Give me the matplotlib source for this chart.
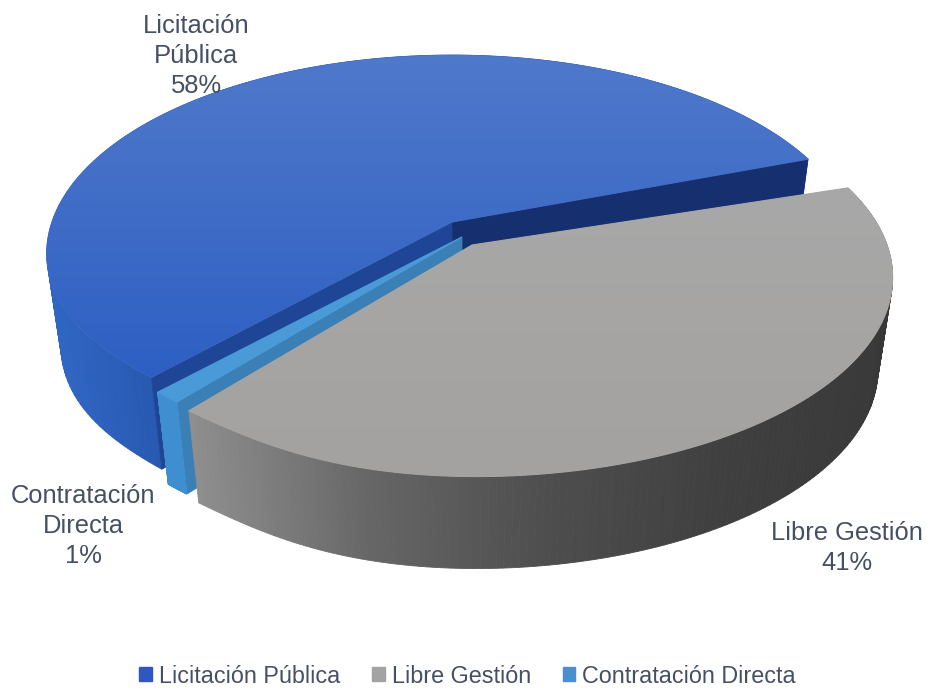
import numpy as np
import matplotlib
matplotlib.use("Agg")
import matplotlib.pyplot as plt
from matplotlib.colors import LinearSegmentedColormap as LSC
from matplotlib.patches import Polygon, Patch

categories = ["Licitación Pública", "Libre Gestión", "Contratación Directa"]
shares = [58, 41, 1]
point_labels = ["Licitación\nPública\n58%", "Libre Gestión\n41%", "Contratación\nDirecta\n1%"]

plt.rcParams['font.family'] = ['Liberation Sans', 'DejaVu Sans']
TXT = '#465064'
START = 18.0
K, DEPTH, SQUEEZE, B = 0.163, 92, 0.965, 194

fig = plt.figure(figsize=(9.28, 6.88), dpi=100)
ax = fig.add_axes([0, 0, 1, 1])
ax.set_xlim(0, 928); ax.set_ylim(688, 0); ax.axis('off')

def proj(ang, g):
    ang = np.asarray(ang, dtype=float)
    r = 1 - g['trim']*np.exp(-((ang-231)/20)**2)
    a = np.radians(ang)
    X, Y = r*np.cos(a), r*np.sin(a)
    w = 1 + K*Y
    return g['cx'] + g['A']*X/w, g['cy'] - B*Y/w

def low(x, y, g):
    return g['cx'] + (x-g['cx'])*SQUEEZE, y + DEPTH

# counter-clockwise order of slices around the pie: Licitación, Contratación, Libre
order_idx = [0, 2, 1]
cum = START + 3.6*np.cumsum([0] + [shares[i] for i in order_idx])
Z = [10]
def z():
    Z[0] += 1
    return Z[0]

def side(a0, a1, g, cmap):
    angs = np.linspace(a0, a1, 160)
    x, y = proj(angs, g)
    xl, yl = low(x, y, g)
    order = np.argsort(y[:-1]+y[1:])
    zz = z()
    for i in order:
        c = cmap(np.clip((x[i]-g['xmin'])/(g['xmax']-g['xmin']), 0, 1))
        ax.add_patch(Polygon([(x[i], y[i]), (x[i+1], y[i+1]), (xl[i+1], yl[i+1]), (xl[i], yl[i])],
                             fc=c, ec=c, lw=0.6, zorder=zz))

def radial(ang, g, col):
    x, y = proj(ang, g)
    xl, yl = low(x, y, g)
    ax.add_patch(Polygon([(g['cx'], g['cy']), (x, y), (xl, yl), (g['cx'], g['cy']+DEPTH)],
                         fc=col, ec=col, lw=0.5, zorder=z()))

def top(a0, a1, g, colors):
    angs = np.linspace(a0, a1, 240)
    x, y = proj(angs, g)
    pts = np.vstack([[g['cx'], g['cy']], np.c_[x, y]])
    zz = z()
    ax.add_patch(Polygon(pts, fc=colors[len(colors)//2], ec=colors[len(colors)//2], lw=0.8, zorder=zz))
    clip = Polygon(pts, transform=ax.transData, fc='none', ec='none')
    ax.add_patch(clip)
    grad = np.linspace(0, 1, 256).reshape(-1, 1)
    im = ax.imshow(grad, extent=(pts[:, 0].min(), pts[:, 0].max(), pts[:, 1].max(), pts[:, 1].min()),
                   cmap=LSC.from_list('t', colors), aspect='auto', zorder=z())
    im.set_clip_path(clip)

blue = dict(cx=452, cy=222, A=400, trim=0.03, xmin=47, xmax=300)
light = dict(cx=462, cy=237, A=405, trim=0.03, xmin=150, xmax=190)
gray = dict(cx=472, cy=245, A=415, trim=0.04, xmin=190, xmax=890)

# Licitación Pública
side(cum[0]+2, cum[1], blue, LSC.from_list('b', ['#3066c4', '#2656ad', '#2454a8']))
radial(cum[0]+2, blue, '#16306f')
radial(cum[1], blue, '#1f4596')
top(cum[0]+2, cum[1], blue, ['#4f79cb', '#3f6cc6', '#2d5fc3'])

# Contratación Directa
radial(cum[2], light, '#3a7fb6')
side(cum[1], cum[2], light, LSC.from_list('l', ['#3f8fd0', '#3f8fd0']))
top(cum[1], cum[2], light, ['#4a9ad8', '#4a9ad8'])

# Libre Gestión
side(cum[2]+1, cum[3], gray, LSC.from_list('g', ['#8e8e8e', '#666666', '#4e4e4e', '#404040', '#383838']))
top(cum[2]+1, cum[3], gray, ['#a8a8a8', '#a6a5a4', '#a4a2a1'])

ax.set_xlim(0, 928); ax.set_ylim(688, 0)

kw = dict(ha='center', va='center', fontsize=18.4, color=TXT, linespacing=1.33, zorder=100)
ax.text(196, 56, point_labels[0], **kw)
ax.text(847, 548, point_labels[1], **kw)
ax.text(83, 526, point_labels[2], **kw)

handles = [Patch(fc=c, ec=c) for c in ['#2f57c4', '#a3a3a3', '#4a8fd2']]
fig.legend(handles, categories, loc='lower center', bbox_to_anchor=(0.504, -0.030), ncol=3, frameon=False,
           fontsize=16.8, handlelength=0.55, handleheight=0.55, handletextpad=0.3, columnspacing=1.35, labelcolor=TXT)

fig.savefig('out.png', dpi=100, facecolor='white')
